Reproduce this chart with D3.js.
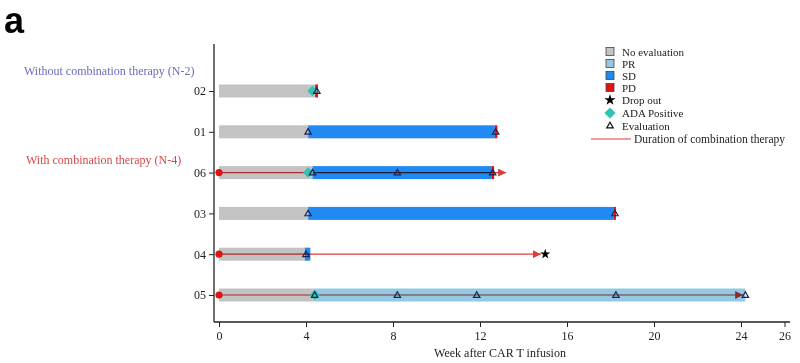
<!DOCTYPE html>
<html>
<head>
<meta charset="utf-8">
<script src="https://cdn.jsdelivr.net/npm/d3@7"></script>
<style>
  body { margin: 0; background: #fff; }
  svg text { font-family: "Liberation Serif", "DejaVu Serif", serif; }
</style>
</head>
<body>
<svg id="chart" width="800" height="363"></svg>
<script>
// patients, top to bottom
var patients = ["02", "01", "06", "03", "04", "05"];

// response segments (weeks)
var segPatient = ["02", "02", "01", "01", "01", "06", "06", "06", "03", "03", "03", "04", "04", "05", "05"];
var segStart   = [0,    4.42, 0,    4.1,  12.68, 0,   4.3,  12.55, 0,   4.1,  18.15, 0,   3.95, 0,    4.4];
var segEnd     = [4.42, 4.55, 4.1,  12.68, 12.8, 4.3, 12.55, 12.65, 4.1, 18.15, 18.25, 4.1, 4.2,  4.4,  24.2];
var segStatus  = ["NE", "PD", "NE", "SD", "PD", "NE", "SD", "PD", "NE", "SD", "PD", "NE", "SD", "NE", "PR"];

// evaluations
var evalPatient = ["02", "01", "01", "06", "06", "06", "03", "03", "04", "05", "05", "05", "05", "05"];
var evalWeek    = [4.5,  4.1,  12.72, 4.3, 8.2,  12.58, 4.1, 18.2, 4.0,  4.4,  8.2,  11.85, 18.25, 24.2];

// ADA positive
var adaPatient = ["02", "06", "05"];
var adaWeek    = [4.3,  4.1,  4.4];

// drop out
var dropPatient = ["04"];
var dropWeek    = [15.0];

// duration of combination therapy
var comboPatient = ["06", "04", "05"];
var comboStart   = [0, 0, 0];
var comboEnd     = [13.2, 14.8, 24.1];

var xTicks = [0, 4, 8, 12, 16, 20, 24, 26];

var colors = { NE: "#c3c3c3", PR: "#93c9e3", SD: "#2189f2", PD: "#e01212" };
var lineRed = "#e03a3a";

var svg = d3.select("#chart");

var x = d3.scaleLinear().domain([0, 26]).range([219, 784.5]);
var y = d3.scalePoint().domain(patients).range([91, 295]);
var barH = 13;

// panel letter
svg.append("text").attr("x", 4).attr("y", 33)
   .style("font-family", "Liberation Sans, Arial, sans-serif")
   .style("font-weight", "bold").style("font-size", "36px").text("a");

// group labels
svg.append("text").attr("x", 24).attr("y", 75).attr("fill", "#6b6bbf")
   .style("font-size", "12px").text("Without combination therapy (N-2)");
svg.append("text").attr("x", 26).attr("y", 164).attr("fill", "#d64848")
   .style("font-size", "12px").text("With combination therapy (N-4)");

// bars
var segs = segPatient.map(function (p, i) {
  return { p: p, s: segStart[i], e: segEnd[i], st: segStatus[i] };
});
svg.append("g").selectAll("rect").data(segs).enter().append("rect")
   .attr("x", function (d) { return x(d.s); })
   .attr("y", function (d) { return y(d.p) - barH / 2; })
   .attr("width", function (d) { return Math.max(x(d.e) - x(d.s), 1.5); })
   .attr("height", barH)
   .attr("fill", function (d) { return colors[d.st]; });

// arrow marker
svg.append("defs").append("marker")
   .attr("id", "arrowhead").attr("viewBox", "0 -5 10 10")
   .attr("refX", 10).attr("refY", 0).attr("orient", "auto")
   .attr("markerWidth", 8).attr("markerHeight", 8).attr("markerUnits", "userSpaceOnUse")
   .append("path").attr("d", "M0,-5L10,0L0,5Z").attr("fill", lineRed);

// combination therapy lines
var combos = comboPatient.map(function (p, i) { return { p: p, s: comboStart[i], e: comboEnd[i] }; });
var cg = svg.append("g");
cg.selectAll("line").data(combos).enter().append("line")
  .attr("x1", function (d) { return x(d.s); })
  .attr("x2", function (d) { return x(d.e); })
  .attr("y1", function (d) { return y(d.p); })
  .attr("y2", function (d) { return y(d.p); })
  .attr("stroke", lineRed).attr("stroke-width", 1.2)
  .style("mix-blend-mode", "multiply")
  .attr("marker-end", "url(#arrowhead)");
cg.selectAll("circle").data(combos).enter().append("circle")
  .attr("cx", function (d) { return x(d.s); })
  .attr("cy", function (d) { return y(d.p); })
  .attr("r", 3.6).attr("fill", "#e01212");

// ADA diamonds
svg.append("g").selectAll("path").data(adaPatient.map(function (p, i) { return { p: p, w: adaWeek[i] }; }))
   .enter().append("path")
   .attr("d", d3.symbol().type(d3.symbolDiamond2).size(70))
   .attr("transform", function (d) { return "translate(" + x(d.w) + "," + y(d.p) + ")"; })
   .attr("fill", "#2ec4b0");

// drop out stars
svg.append("g").selectAll("path").data(dropPatient.map(function (p, i) { return { p: p, w: dropWeek[i] }; }))
   .enter().append("path")
   .attr("d", d3.symbol().type(d3.symbolStar).size(32))
   .attr("transform", function (d) { return "translate(" + x(d.w) + "," + y(d.p) + ")"; })
   .attr("fill", "#000");

// evaluation triangles
svg.append("g").selectAll("path").data(evalPatient.map(function (p, i) { return { p: p, w: evalWeek[i] }; }))
   .enter().append("path")
   .attr("d", d3.symbol().type(d3.symbolTriangle2).size(30))
   .attr("transform", function (d) { return "translate(" + x(d.w) + "," + (y(d.p) + 0.5) + ")"; })
   .attr("fill", "none").attr("stroke", "#1c2550").attr("stroke-width", 1.2);

// axes
var xAxis = svg.append("g").attr("transform", "translate(0,322)")
   .call(d3.axisBottom(x).tickValues(xTicks).tickSize(5).tickSizeOuter(0).tickPadding(4));
xAxis.select(".domain").attr("d", "M214,0H790");
var yAxis = svg.append("g").attr("transform", "translate(214,0)")
   .call(d3.axisLeft(y).tickSize(5).tickSizeOuter(0).tickPadding(3));
yAxis.select(".domain").attr("d", "M0,44V322");
[xAxis, yAxis].forEach(function (a) {
  a.selectAll("text").style("font-size", "12px").style("font-family", "Liberation Serif, serif").attr("fill", "#222");
  a.selectAll("line").attr("stroke", "#222");
  a.select(".domain").attr("stroke", "#222").attr("stroke-width", 1.3);
});

svg.append("text").attr("x", 500).attr("y", 357).attr("text-anchor", "middle")
   .style("font-size", "12px").attr("fill", "#222").text("Week after CAR T infusion");

// legend
var legendLabels = ["No evaluation", "PR", "SD", "PD", "Drop out", "ADA Positive", "Evaluation"];
var legendY = [52, 64, 76, 88, 100, 113, 126];
var lg = svg.append("g");
["NE", "PR", "SD", "PD"].forEach(function (k, i) {
  lg.append("rect").attr("x", 606).attr("y", legendY[i] - 4.5).attr("width", 8).attr("height", 8)
    .attr("fill", colors[k]).attr("stroke", "#444").attr("stroke-width", 0.8);
});
lg.append("path").attr("d", d3.symbol().type(d3.symbolStar).size(40))
  .attr("transform", "translate(610," + legendY[4] + ")").attr("fill", "#000");
lg.append("path").attr("d", d3.symbol().type(d3.symbolDiamond2).size(80))
  .attr("transform", "translate(610," + legendY[5] + ")").attr("fill", "#2ec4b0");
lg.append("path").attr("d", d3.symbol().type(d3.symbolTriangle2).size(30))
  .attr("transform", "translate(610," + legendY[6] + ")")
  .attr("fill", "none").attr("stroke", "#111").attr("stroke-width", 1.2);
legendLabels.forEach(function (t, i) {
  lg.append("text").attr("x", 622).attr("y", legendY[i] + 4).style("font-size", "11px")
    .attr("fill", "#222").text(t);
});
lg.append("line").attr("x1", 591).attr("x2", 631).attr("y1", 139).attr("y2", 139)
  .attr("stroke", lineRed).attr("stroke-width", 1.2);
lg.append("text").attr("x", 634).attr("y", 143).style("font-size", "11.5px")
  .attr("fill", "#222").text("Duration of combination therapy");
</script>
</body>
</html>
